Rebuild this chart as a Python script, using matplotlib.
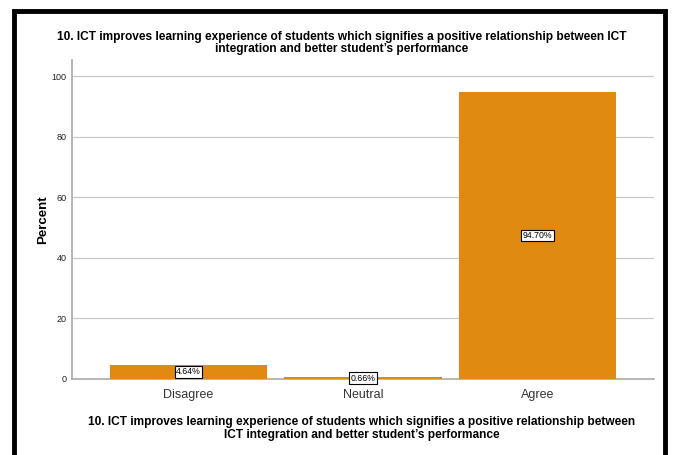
import matplotlib.pyplot as plt
from matplotlib.patches import Rectangle

plt.rcParams['font.family'] = ['Liberation Sans', 'DejaVu Sans']

categories = ['Disagree', 'Neutral', 'Agree']
percents = [4.64, 0.66, 94.70]
labels = ['4.64%', '0.66%', '94.70%']
yticks = [0, 20, 40, 60, 80, 100]
title = ('10. ICT improves learning experience of students which signifies a positive relationship between ICT\n'
         'integration and better student\u2019s performance')
xlabel = ('10. ICT improves learning experience of students which signifies a positive relationship between\n'
          'ICT integration and better student\u2019s performance')

fig = plt.figure(figsize=(6.77, 4.55), dpi=100)
# black frame around the chart
fig.patches.append(Rectangle((14 / 677, -0.05), (665 - 14) / 677, 1 - 10.5 / 455 + 0.05,
                             transform=fig.transFigure, fill=False, edgecolor='black', linewidth=3.5))

ax = fig.add_axes([72 / 677, 1 - 379 / 455, (654 - 72) / 677, (379 - 60) / 455])
x = range(len(categories))
ax.bar(x, percents, width=0.9, color='#E08A12', zorder=3)
for i, (v, lab) in enumerate(zip(percents, labels)):
    ax.text(i, v / 2, lab, ha='center', va='center', fontsize=6.3, zorder=4,
            bbox=dict(boxstyle='square,pad=0.15', fc='white', ec='black', lw=0.8))

ax.set_xlim(-0.668, 2.668)
ax.set_ylim(0, 105.3)
ax.set_yticks(yticks)
ax.set_yticklabels([str(t) for t in yticks], fontsize=6.5, color='#222222')
ax.set_xticks(list(x))
ax.set_xticklabels(categories, fontsize=9, color='#333333')
ax.tick_params(axis='y', length=0, pad=4)
ax.tick_params(axis='x', length=0, pad=7)
ax.grid(axis='y', color='#C8C8C8', linewidth=0.9, zorder=0)
for s in ['top', 'right']:
    ax.spines[s].set_visible(False)
ax.spines['left'].set_color('#AAAAAA')
ax.spines['bottom'].set_color('#AAAAAA')
ax.spines['left'].set_linewidth(1.2)
ax.spines['bottom'].set_linewidth(1.2)

ax.set_ylabel('Percent', fontsize=9.5, fontweight='bold', labelpad=2)
fig.text(342 / 677, 1 - 43 / 455, title, ha='center', va='center', fontsize=8.6, fontweight='bold',
         linespacing=1.0)
fig.text(362 / 677, 1 - 428.5 / 455, xlabel, ha='center', va='center', fontsize=8.6, fontweight='bold',
         linespacing=1.15)

fig.savefig('out.png', dpi=100)
